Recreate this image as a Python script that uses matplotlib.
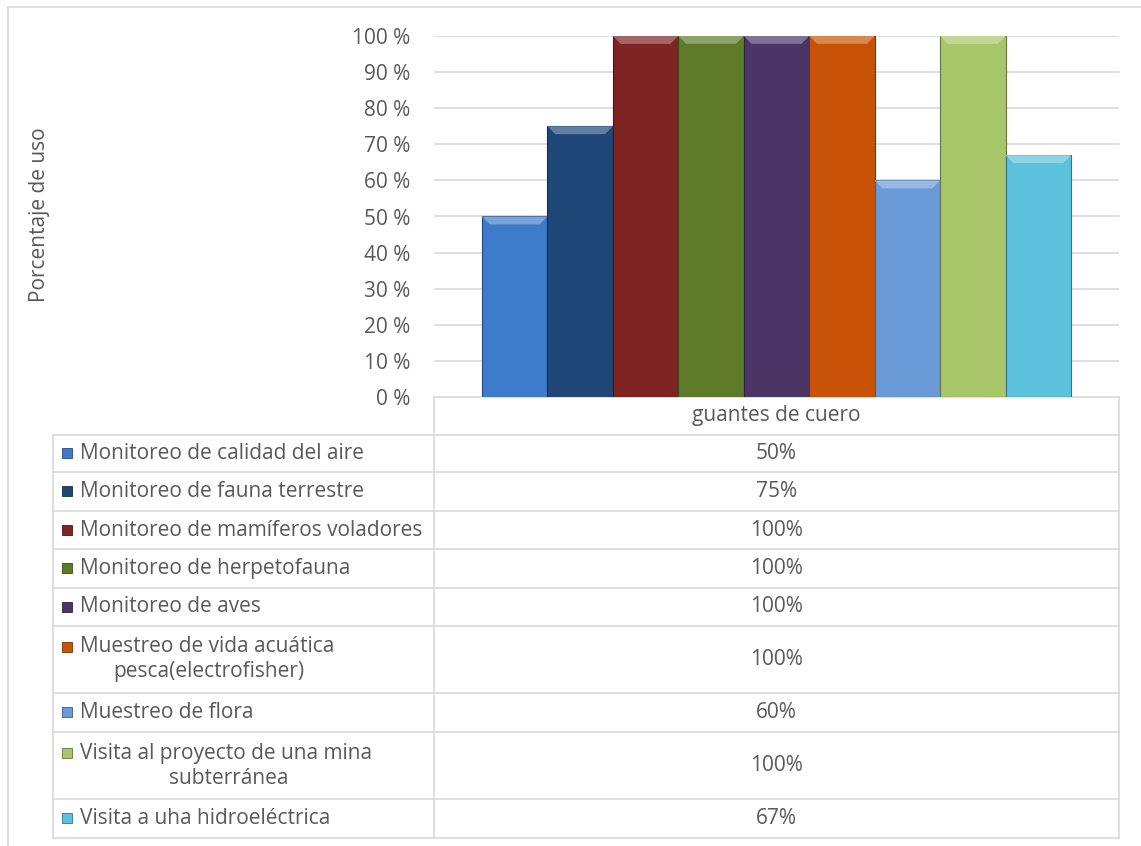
import matplotlib
matplotlib.use("Agg")
import matplotlib.pyplot as plt
from matplotlib.patches import Rectangle, Polygon
import matplotlib.colors as mcolors

plt.rcParams['font.family'] = ['Open Sans', 'DejaVu Sans']

# ---- data ----
category = "guantes de cuero"
series_names = [
    "Monitoreo de calidad del aire",
    "Monitoreo de fauna terrestre",
    "Monitoreo de mamíferos voladores",
    "Monitoreo de herpetofauna",
    "Monitoreo de aves",
    "Muestreo de vida acuática\npesca(electrofisher)",
    "Muestreo de flora",
    "Visita al proyecto de una mina\nsubterránea",
    "Visita a uha hidroeléctrica",
]
values = [50, 75, 100, 100, 100, 100, 60, 100, 67]
value_labels = ["50%", "75%", "100%", "100%", "100%", "100%", "60%", "100%", "67%"]
colors = ["#3E7BCB", "#1F4778", "#7E2222", "#5E7B29", "#4A3566",
          "#C85306", "#6A9BD8", "#A8C66A", "#5CC1DC"]
yticks = [0, 10, 20, 30, 40, 50, 60, 70, 80, 90, 100]
ytick_labels = [f"{t} %" for t in yticks]

W, H = 1141, 846
fig = plt.figure(figsize=(W / 100, H / 100), dpi=100)
TXT = "#595959"
GRID = "#D9D9D9"
FS = 15

# plot area in pixels
pl, pr, pt, pb = 434, 1119, 36, 397
ax = fig.add_axes([pl / W, 1 - pb / H, (pr - pl) / W, (pb - pt) / H])
ax.set_xlim(-0.5, 0.5)
ax.set_ylim(0, 100)
n = len(values)
gw = 0.86
bw = gw / n
for i, (v, c) in enumerate(zip(values, colors)):
    x = -gw / 2 + bw * (i + 0.5)
    rgb = mcolors.to_rgb(c)
    dark = tuple(ch * 0.6 for ch in rgb)
    light = tuple(min(1, ch + (1 - ch) * 0.3) for ch in rgb)
    ax.bar(x, v, width=bw, color=c, edgecolor=dark, linewidth=0.8, zorder=3)
    # top bevel (trapezoid) derived from the bar value
    bev = 2.2
    ins = bw * 0.12
    ax.add_patch(Polygon([(x - bw / 2, v), (x + bw / 2, v),
                          (x + bw / 2 - ins, v - bev), (x - bw / 2 + ins, v - bev)],
                         closed=True, facecolor=light, edgecolor='none', zorder=4))
ax.set_yticks(yticks)
ax.set_yticklabels(ytick_labels, color=TXT, fontsize=FS)
ax.tick_params(axis='y', length=0, pad=17)
ax.set_xticks([])
ax.grid(axis='y', color=GRID, linewidth=1.2, zorder=0)
for s in ax.spines.values():
    s.set_visible(False)

# overlay for table and frame
ov = fig.add_axes([0, 0, 1, 1], zorder=-1)
ov.set_xlim(0, W)
ov.set_ylim(H, 0)
ov.axis('off')
lc = "#D9D9D9"
# chart outer frame (partially visible)
ov.plot([8, 8], [7, H], color=lc, lw=1.2)
ov.plot([8, W], [7, 7], color=lc, lw=1.2)

tl, tm, tr = 53, 434, 1119
row_bounds = [435, 472, 511, 549, 588, 626, 693, 732, 799, 838]
second_line_x = {5: 113, 7: 169}
# header
ov.plot([tm, tr], [pb, pb], color=lc, lw=1.2)
ov.plot([tm, tm], [pb, row_bounds[-1]], color=lc, lw=1.2)
ov.plot([tr, tr], [pb, row_bounds[-1]], color=lc, lw=1.2)
ov.plot([tl, tl], [row_bounds[0], row_bounds[-1]], color=lc, lw=1.2)
for yb in row_bounds:
    ov.plot([tl, tr], [yb, yb], color=lc, lw=1.2)
ov.text((tm + tr) / 2, (pb + row_bounds[0]) / 2, category, ha='center',
        va='center', color=TXT, fontsize=FS)

for i, (name, lab, c) in enumerate(zip(series_names, value_labels, colors)):
    y0, y1 = row_bounds[i], row_bounds[i + 1]
    yc = (y0 + y1) / 2
    lines = name.split("\n")
    if len(lines) == 1:
        ov.text(80, yc, lines[0], ha='left', va='center', color=TXT, fontsize=FS)
        my = yc
    else:
        ov.text(80, yc - 12.5, lines[0], ha='left', va='center', color=TXT, fontsize=FS)
        ov.text(second_line_x.get(i, 113), yc + 12.5, lines[1], ha='left',
                va='center', color=TXT, fontsize=FS)
        my = yc - 12.5
    rgb = mcolors.to_rgb(c)
    ov.add_patch(Rectangle((62, my - 5), 10, 10, facecolor=c,
                           edgecolor=tuple(ch * 0.6 for ch in rgb), lw=0.6))
    ov.text((tm + tr) / 2, yc, lab, ha='center', va='center', color=TXT, fontsize=FS)

ov.text(40, 215, "Porcentaje de uso", rotation=90, ha='center', va='center',
        color=TXT, fontsize=FS)

fig.savefig("out.png", dpi=100)
